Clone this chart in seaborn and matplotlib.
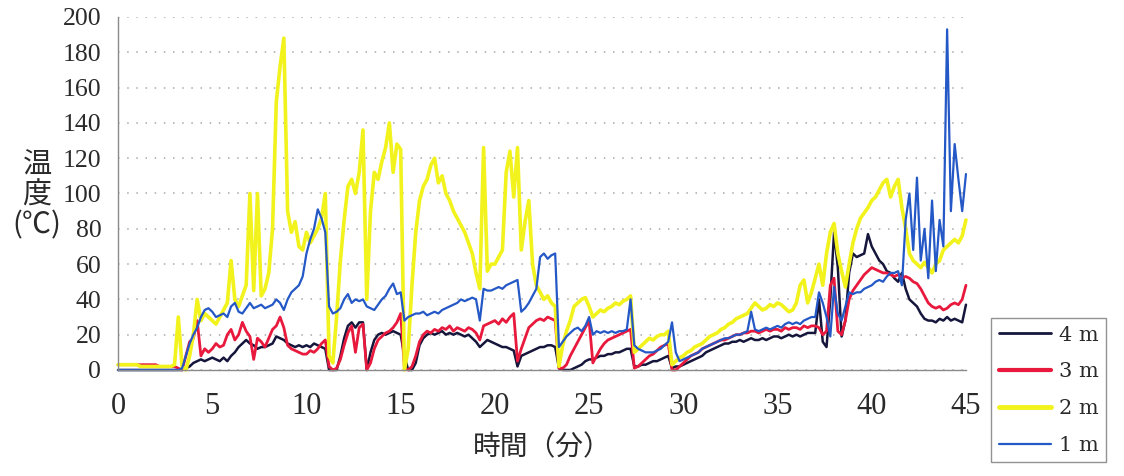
import numpy as np
import pandas as pd
import matplotlib
matplotlib.use("Agg")
import matplotlib.pyplot as plt
import seaborn as sns

# sample times (minutes), one reading every 0.2 min
minutes = [round(i * 0.2, 1) for i in range(226)]

temp_4m = [
    0, 0, 0, 0, 0,   0, 0, 0, 0, 0,   0, 0, 0, 0, 0,   0, 0, 0, 1, 2,
    4, 5, 6, 5, 6,   7, 6, 5, 7, 5,   8, 10, 13, 15, 17,   15, 14, 12, 13, 13,
    14, 15, 19, 18, 17,   15, 14, 13, 14, 13,   14, 13, 15, 14, 13,   12, 0, 0, 0, 8,
    18, 25, 27, 24, 27,   27, 0, 10, 17, 20,   21, 20, 21, 22, 21,   20, 8, 0, 0, 4,
    14, 18, 20, 21, 20,   21, 22, 20, 21, 20,   21, 20, 19, 20, 18,   16, 13, 15, 17, 16,
    15, 14, 13, 13, 12,   11, 2, 8, 9, 10,   11, 12, 13, 13, 14,   14, 13, 1, 0, 0,
    0, 1, 2, 3, 5,   6, 6, 7, 8, 8,   9, 9, 10, 10, 11,   12, 12, 2, 2, 3,
    3, 4, 5, 5, 6,   7, 8, 1, 2, 2,   3, 4, 5, 6, 7,   8, 10, 11, 12, 13,
    14, 15, 15, 16, 16,   17, 16, 17, 18, 17,   17, 18, 17, 18, 19,   19, 18, 19, 20, 19,
    20, 19, 20, 21, 21,   21, 40, 16, 13, 40,   78, 58, 19, 28, 55,   66, 64, 65, 66, 77,
    70, 66, 62, 60, 56,   55, 52, 50, 55, 46,   40, 38, 36, 32, 29,   28, 28, 27, 29, 28,
    30, 28, 29, 28, 27,   37,
]

temp_3m = [
    3, 3, 3, 3, 3,   3, 3, 3, 3, 3,   3, 2, 2, 2, 2,   2, 1, 0, 8, 16,
    18, 28, 8, 12, 10,   12, 15, 13, 14, 20,   23, 17, 20, 27, 22,   19, 6, 18, 16, 13,
    18, 23, 25, 30, 24,   14, 12, 11, 10, 9,   9, 11, 10, 12, 15,   17, 2, 0, 1, 6,
    14, 21, 25, 10, 24,   26, 0, 4, 12, 17,   19, 21, 22, 24, 27,   32, 1, 0, 2, 8,
    16, 20, 22, 21, 23,   22, 24, 23, 25, 22,   24, 23, 22, 24, 23,   21, 17, 25, 26, 27,
    28, 26, 29, 27, 30,   32, 5, 12, 18, 24,   26, 28, 29, 28, 30,   29, 28, 1, 1, 3,
    8, 12, 16, 20, 24,   28, 4, 8, 12, 15,   17, 18, 19, 20, 21,   22, 23, 1, 2, 4,
    6, 8, 9, 11, 13,   14, 15, 0, 0, 2,   4, 6, 8, 9, 10,   12, 13, 14, 15, 16,
    17, 17, 18, 19, 20,   20, 21, 21, 22, 22,   21, 22, 23, 22, 23,   23, 22, 24, 23, 24,
    24, 23, 25, 24, 25,   25, 24, 20, 22, 48,   52, 22, 20, 28, 40,   45, 48, 51, 54, 56,
    58, 57, 56, 55, 55,   54, 53, 54, 52, 53,   52, 50, 49, 46, 42,   38, 36, 35, 36, 34,
    35, 37, 38, 37, 40,   48,
]

temp_2m = [
    3, 3, 3, 3, 3,   3, 2, 2, 2, 2,   2, 2, 2, 2, 2,   3, 30, 2, 0, 8,
    20, 40, 28, 32, 30,   28, 26, 30, 34, 38,   62, 40, 36, 42, 48,   100, 45, 100, 42, 46,
    55, 80, 152, 172, 188,   90, 78, 84, 70, 68,   78, 72, 76, 80, 86,   100, 8, 4, 30, 62,
    85, 104, 108, 100, 112,   136, 40, 90, 112, 108,   118, 126, 140, 112, 128,   125, 0, 12, 48, 78,
    96, 104, 108, 116, 120,   106, 110, 100, 96, 90,   86, 82, 78, 72, 66,   55, 46, 126, 56, 60,
    60, 64, 68, 112, 124,   98, 126, 68, 84, 96,   60, 48, 44, 40, 42,   38, 36, 2, 14, 22,
    28, 36, 38, 40, 41,   36, 30, 32, 34, 33,   35, 36, 38, 37, 39,   40, 42, 10, 12, 14,
    16, 18, 17, 19, 20,   20, 22, 3, 5, 7,   8, 10, 11, 13, 14,   15, 17, 19, 20, 21,
    23, 24, 26, 27, 29,   30, 31, 32, 35, 38,   36, 34, 35, 37, 36,   38, 37, 35, 33, 34,
    38, 48, 51, 38, 44,   52, 60, 48, 66, 78,   83, 66, 56, 47, 60,   72, 80, 86, 89, 92,
    96, 98, 102, 106, 108,   98, 104, 108, 92, 80,   66, 62, 60, 58, 61,   58, 55, 60, 62, 68,
    70, 72, 74, 72, 76,   85,
]

temp_1m = [
    0, 0, 0, 0, 0,   0, 0, 0, 0, 0,   0, 0, 0, 0, 0,   0, 0, 1, 8, 15,
    20, 24, 30, 34, 35,   33, 30, 31, 32, 30,   36, 38, 33, 32, 35,   38, 35, 36, 37, 35,
    36, 37, 40, 38, 34,   40, 44, 46, 48, 53,   66, 74, 80, 91, 86,   78, 36, 32, 33, 35,
    40, 43, 38, 40, 39,   40, 36, 35, 34, 37,   40, 42, 46, 49, 43,   44, 28, 30, 31, 32,
    32, 33, 31, 32, 33,   32, 34, 35, 36, 37,   38, 40, 39, 40, 41,   40, 28, 46, 45, 45,
    46, 47, 46, 48, 49,   50, 51, 33, 35, 38,   42, 46, 64, 66, 63,   65, 66, 13, 16, 19,
    21, 23, 24, 22, 25,   30, 20, 22, 21, 22,   21, 22, 21, 22, 22,   23, 40, 14, 12, 11,
    10, 10, 10, 11, 12,   14, 16, 27, 10, 5,   6, 7, 8, 9, 10,   12, 13, 14, 15, 16,
    17, 18, 18, 19, 20,   20, 21, 22, 33, 23,   22, 23, 24, 23, 24,   25, 24, 26, 27, 26,
    27, 26, 28, 29, 30,   30, 44, 38, 30, 19,   47, 32, 28, 36, 44,   43, 44, 44, 46, 47,
    48, 50, 51, 50, 53,   55, 55, 56, 48, 85,   100, 68, 109, 62, 80,   52, 96, 56, 85, 70,
    193, 90, 128, 108, 90,   111,
]

sensor_labels = ["4 m", "3 m", "2 m", "1 m"]
sensor_colors = ["#16163c", "#e8193c", "#f2f21c", "#2458c6"]
line_widths = [1.8, 2.0, 2.6, 1.6]
x_ticks = [0, 5, 10, 15, 20, 25, 30, 35, 40, 45]
y_ticks = [0, 20, 40, 60, 80, 100, 120, 140, 160, 180, 200]

sns.set_theme(style="white")
plt.rcParams["font.family"] = ["Liberation Serif", "Noto Sans CJK JP"]

frames = []
for lab, vals in zip(sensor_labels, [temp_4m, temp_3m, temp_2m, temp_1m]):
    frames.append(pd.DataFrame({"時間": minutes, "温度": vals, "センサー": lab}))
df = pd.concat(frames, ignore_index=True)

fig = plt.figure(figsize=(11.24, 4.76), dpi=100)
ax = fig.add_axes([0.1050, 0.2227, 0.7544, 0.7416])

sns.lineplot(data=df, x="時間", y="温度", hue="センサー", hue_order=sensor_labels,
             palette=dict(zip(sensor_labels, sensor_colors)), estimator=None,
             sort=False, ax=ax, legend=True)
for ln, lw in zip(ax.lines, line_widths):
    ln.set_linewidth(lw)
    ln.set_clip_on(False)

ax.set_xlim(0, 45)
ax.set_ylim(0, 200)
ax.set_xticks(x_ticks)
ax.set_yticks(y_ticks)
ax.yaxis.grid(True, color="#a8a8a8", linestyle=(0, (1, 5)), linewidth=1.1)
ax.xaxis.grid(False)
for s in ["top", "right"]:
    ax.spines[s].set_visible(False)
for s in ["left", "bottom"]:
    ax.spines[s].set_color("#8a8a8a")
    ax.spines[s].set_linewidth(1.0)
ax.tick_params(axis="both", direction="in", length=5, width=1, color="#8a8a8a",
               labelcolor="#2a2a2a")
ax.tick_params(axis="x", labelsize=22, pad=16)
ax.tick_params(axis="y", labelsize=18.5, pad=12)

ax.set_xlabel("時間（分）", fontsize=20, family=["Noto Sans CJK JP"], labelpad=8,
              color="#2a2a2a")
ax.set_ylabel("")
fig.text(0.033, 0.59, "温\n度\n(℃)", ha="center", va="center", fontsize=21,
         family=["Noto Sans CJK JP", "DejaVu Sans"], linespacing=1.0, color="#2a2a2a")

handles, labels = ax.get_legend_handles_labels()
ax.get_legend().remove()
for h, lw in zip(handles, [2.0, 3.0, 3.5, 1.6]):
    h.set_linewidth(lw)
leg = fig.legend(handles, labels, loc="lower left", bbox_to_anchor=(0.882, 0.029),
                 frameon=True, fancybox=False, edgecolor="#777777",
                 prop={"family": "DejaVu Serif", "size": 15}, handlelength=2.5,
                 handletextpad=0.4, labelspacing=0.85, borderpad=0.35,
                 borderaxespad=0.0)
leg.get_frame().set_linewidth(1.0)
for t in leg.get_texts():
    t.set_color("#2a2a2a")

fig.savefig("out.png", dpi=100, facecolor="white")
